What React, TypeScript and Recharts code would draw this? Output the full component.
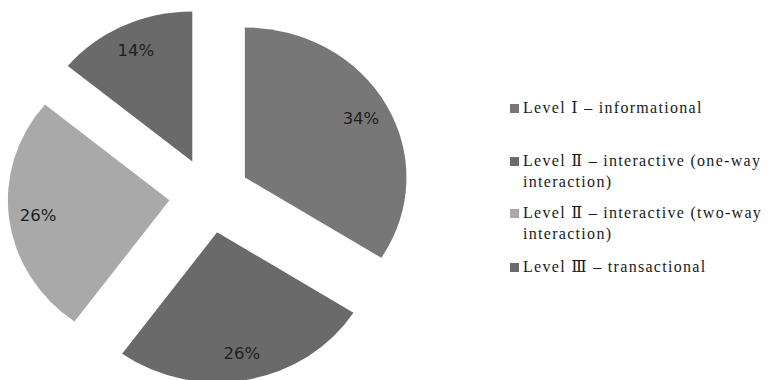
import { Cell, Legend, Pie, PieChart } from "recharts";

const levels = [
  "Level Ⅰ – informational",
  "Level Ⅱ – interactive (one-way interaction)",
  "Level Ⅱ – interactive (two-way interaction)",
  "Level Ⅲ – transactional"
];
const shares = [34, 26, 26, 14];
const shades = ["#777777", "#6a6a6a", "#a9a9a9", "#6a6a6a"];

// the source picture is a little wider than tall, so slices are drawn as ovals
const SX = 1.077;
const PULL = 0.25;
const LABEL_AT = 0.82;

const chartData = levels.map((name, i) => ({ name, value: shares[i] }));

function apexOf(cx: number, cy: number, mid: number, r: number) {
  const rad = (mid * Math.PI) / 180;
  return [cx + PULL * r * SX * Math.cos(rad), cy - PULL * r * Math.sin(rad)];
}

function OvalSector(props: any) {
  const { cx, cy, outerRadius, startAngle, endAngle, fill } = props;
  const mid = (startAngle + endAngle) / 2;
  const [ax, ay] = apexOf(cx, cy, mid, outerRadius);
  const pt = (deg: number) => {
    const rad = (deg * Math.PI) / 180;
    return [ax + outerRadius * SX * Math.cos(rad), ay - outerRadius * Math.sin(rad)];
  };
  const [x0, y0] = pt(startAngle);
  const [x1, y1] = pt(endAngle);
  const large = Math.abs(startAngle - endAngle) > 180 ? 1 : 0;
  const sweep = startAngle > endAngle ? 1 : 0;
  return (
    <path
      d={`M${ax},${ay}L${x0},${y0}A${outerRadius * SX},${outerRadius} 0 ${large} ${sweep} ${x1},${y1}Z`}
      fill={fill}
    />
  );
}

function pctLabel(props: any) {
  const { cx, cy, outerRadius, startAngle, endAngle, value } = props;
  const mid = (startAngle + endAngle) / 2;
  const [ax, ay] = apexOf(cx, cy, mid, outerRadius);
  const rad = (mid * Math.PI) / 180;
  const x = ax + LABEL_AT * outerRadius * SX * Math.cos(rad);
  const y = ay - LABEL_AT * outerRadius * Math.sin(rad);
  return (
    <text
      x={x}
      y={y}
      textAnchor="middle"
      dominantBaseline="central"
      fill="#1e1e1e"
      fontSize={16.5}
      fontFamily="'DejaVu Sans', sans-serif"
    >
      {`${value}%`}
    </text>
  );
}

const gaps = [0, 32, 10, 12];

function LevelLegend() {
  return (
    <div
      style={{
        fontFamily: "'Liberation Serif', 'DejaVu Serif', serif",
        fontSize: 16,
        letterSpacing: 1.3,
        lineHeight: "21px",
        color: "#1a1a1a"
      }}
    >
      {levels.map((name, i) => (
        <div key={name} style={{ display: "flex", marginTop: gaps[i] }}>
          <span
            style={{
              flex: "0 0 9px",
              height: 9,
              marginTop: 7,
              marginRight: 4,
              background: shades[i]
            }}
          />
          <span style={{ flex: 1 }}>{name}</span>
        </div>
      ))}
    </div>
  );
}

export default function App() {
  return (
    <div style={{ position: "absolute", left: 0, top: 0, background: "#fff" }}>
      <PieChart width={769} height={380} margin={{ top: 0, right: 0, bottom: 0, left: 0 }}>
        <Pie
          data={chartData}
          dataKey="value"
          nameKey="name"
          cx={209.5}
          cy={195.5}
          outerRadius={150}
          startAngle={90}
          endAngle={-270}
          stroke="none"
          shape={OvalSector}
          activeShape={OvalSector}
          inactiveShape={OvalSector}
          label={pctLabel}
          labelLine={false}
          isAnimationActive={false}
        >
          {chartData.map((d, i) => (
            <Cell key={d.name} fill={shades[i]} />
          ))}
        </Pie>
        <Legend
          layout="vertical"
          align="right"
          verticalAlign="top"
          wrapperStyle={{ left: 510, top: 97, width: 275 }}
          content={<LevelLegend />}
        />
      </PieChart>
    </div>
  );
}
